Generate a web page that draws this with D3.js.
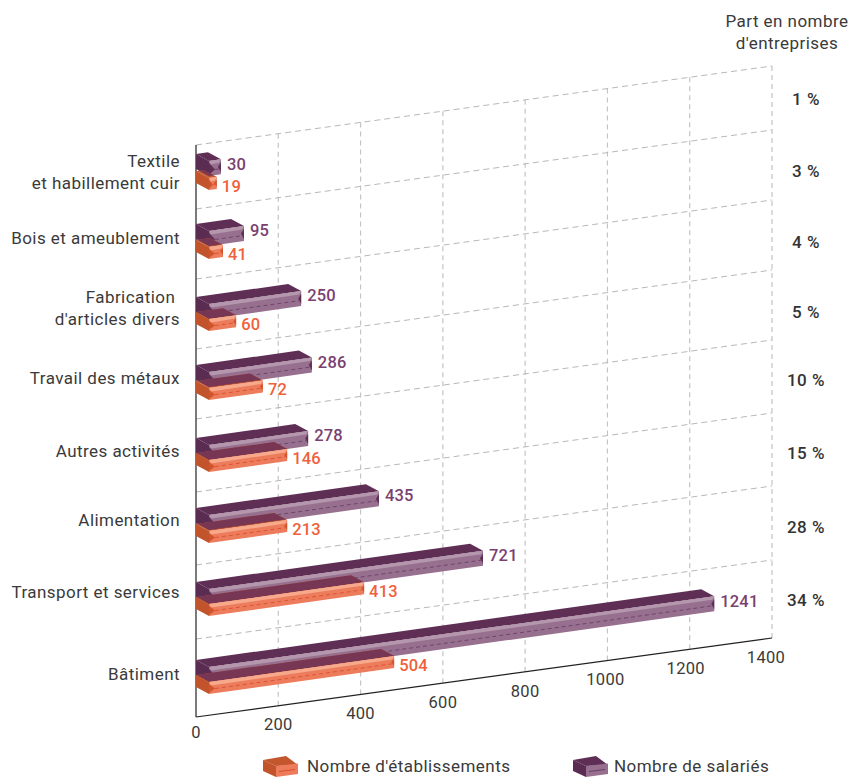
<!DOCTYPE html>
<html lang="fr">
<head>
<meta charset="utf-8">
<script src="https://cdn.jsdelivr.net/npm/d3@7"></script>
<style>
  html, body { margin: 0; padding: 0; background: #fff; }
  svg { display: block; }
  text { font-family: Roboto, sans-serif; font-size: 17px; fill: #3a3a3a; letter-spacing: 0.45px; }
  .tick { font-size: 16.5px; letter-spacing: 0.3px; }
  .val { font-weight: 500; font-size: 16.5px; letter-spacing: 0.2px; }
  .share { font-weight: 500; fill: #333; font-size: 17px; letter-spacing: 0.5px; }
</style>
</head>
<body>
<svg id="chart" width="857" height="777"></svg>
<script>
const categories = ['Textile', 'Bois', 'Fabrication', 'Travail', 'Autres', 'Alimentation', 'Transport', 'Batiment'];
const categoryLines = [
  ['Textile', 'et habillement cuir'],
  ['Bois et ameublement'],
  ['Fabrication\u00a0', "d'articles divers"],
  ['Travail des métaux'],
  ['Autres activités'],
  ['Alimentation'],
  ['Transport et services'],
  ['Bâtiment'],
];
// printed figures
const salaries = [30, 95, 250, 286, 278, 435, 721, 1241];
const establishments = [19, 41, 60, 72, 146, 213, 413, 504];
// bar lengths as read against the axis: the source does not draw them to the printed figures
const salariesDrawn = [29, 85, 224, 250, 241, 413, 666, 1228];
const establishmentsDrawn = [19, 34, 66, 131, 190, 190, 377, 450];
const shares = ['1 %', '3 %', '4 %', '5 %', '10 %', '15 %', '28 %', '34 %'];
const xTicks = [0, 200, 400, 600, 800, 1000, 1200, 1400];

const svg = d3.select('#chart');
const left = 196;
const bottom = 717;
const plotHeight = 572;

const x = d3.scaleLinear().domain([0, 1400]).range([left, 772]);
const yBase = d3.scaleLinear().domain([0, 1400]).range([bottom, 638]);
const len = d3.scaleLinear().domain([0, 1400]).range([0, 576]);

// layout of the rows (the source spacing is not even)
const bandLeft = [145, 209, 279, 349, 419, 492, 565, 639];
const salariesY = d3.scaleOrdinal(categories, [154, 224, 297, 365, 438, 508, 582, 660]);
const establishmentsY = d3.scaleOrdinal(categories, [171, 240, 312, 381, 453, 524, 597, 675]);
const labelY = d3.scaleOrdinal(categories, [161, 238, 297, 378, 451, 520, 592, 674]);
const shareRows = [99, 171, 242, 312, 380, 453, 527, 600];

const PURPLE = { top: '#5e2e55', side: '#5a2c52', front: '#97708f', stripe: '#b497ad', dash: '#6c3d66', tri: '#5e2e55', text: '#7a4170' };
const ORANGE = { top: '#c4562d', side: '#c2542b', front: '#ec7c5c', stripe: '#f7a98c', dash: '#d8502f', tri: '#d4532b', text: '#f0603a' };

const depth = { x: 13, y: 7 };
const slope = -0.14;
const poly = pts => pts.map(p => p.join(',')).join(' ');

// vertical gridlines
svg.append('g').selectAll('line')
  .data(xTicks.slice(1))
  .enter().append('line')
    .attr('x1', d => x(d))
    .attr('x2', d => x(d))
    .attr('y1', d => yBase(d))
    .attr('y2', d => yBase(d) - plotHeight)
    .attr('stroke', '#c4c4c4')
    .attr('stroke-width', 1.2)
    .attr('stroke-dasharray', '5,4');

// row separators
svg.append('g').selectAll('line')
  .data(bandLeft)
  .enter().append('line')
    .attr('x1', left)
    .attr('x2', x(1400))
    .attr('y1', d => d)
    .attr('y2', d => d + yBase(1400) - yBase(0))
    .attr('stroke', '#b8b8b8')
    .attr('stroke-width', 1)
    .attr('stroke-dasharray', '6,4');

// axes
svg.append('line')
  .attr('x1', left).attr('x2', left)
  .attr('y1', bottom - plotHeight).attr('y2', bottom)
  .attr('stroke', '#333').attr('stroke-width', 1.3);
svg.append('line')
  .attr('x1', x(0)).attr('x2', x(1400))
  .attr('y1', yBase(0)).attr('y2', yBase(1400))
  .attr('stroke', '#222').attr('stroke-width', 1.2);

const tickNudgeX = d3.scaleLinear().domain([800, 1400]).range([0, -6]).clamp(true);
svg.append('g').selectAll('text')
  .data(xTicks)
  .enter().append('text')
    .attr('class', 'tick')
    .attr('x', d => x(d) + tickNudgeX(d))
    .attr('y', d => yBase(d) + (d === 0 ? 15 : 19))
    .attr('dy', '0.35em')
    .attr('text-anchor', 'middle')
    .text(d => d);

function barFace(g, x0, y0, length, h, c) {
  const fx = x0 + depth.x;
  const fy = y0 + depth.y;
  const ex = fx + length;
  const ey = fy + length * slope;
  const inset = Math.min(6, length / 2);

  g.append('polygon').attr('fill', c.front)
    .attr('points', poly([[fx, fy], [ex, ey], [ex, ey + h], [fx, fy + h]]));
  // light stripe along the top of the face
  g.append('polygon').attr('fill', c.stripe)
    .attr('points', poly([[fx, fy], [ex, ey], [ex - 2, ey + 3.5], [fx + 2, fy + 3.5]]));
  // dashed seam
  g.append('line')
    .attr('x1', fx + inset).attr('y1', fy + h * 0.62 + inset * slope)
    .attr('x2', ex - 2).attr('y2', ey + h * 0.62 - 2 * slope)
    .attr('stroke', c.dash).attr('stroke-width', 0.9).attr('stroke-dasharray', '4,3');
  // bevel at both ends
  g.append('polygon').attr('fill', c.tri)
    .attr('points', poly([[fx, fy + 2], [fx + inset, fy + h * 0.55], [fx, fy + h - 1]]));
  g.append('polygon').attr('fill', c.tri)
    .attr('points', poly([[ex, ey + 3], [ex - 3, ey + h * 0.5], [ex, ey + h - 2]]));
}

function barTop(g, x0, y0, length, c) {
  const dy = length * slope;
  g.append('polygon').attr('fill', c.top)
    .attr('points', poly([[x0, y0], [x0 + length, y0 + dy], [x0 + length + depth.x, y0 + dy + depth.y], [x0 + depth.x, y0 + depth.y]]));
}

function barSide(g, x0, y0, h, c) {
  g.append('polygon').attr('fill', c.side)
    .attr('points', poly([[x0, y0], [x0 + depth.x, y0 + depth.y], [x0 + depth.x, y0 + depth.y + h], [x0, y0 + h]]));
}

const defs = svg.append('defs');
const gBars = svg.append('g');

categories.forEach((cat, i) => {
  const g = gBars.append('g').attr('class', 'row');
  const pLen = len(salariesDrawn[i]);
  const oLen = len(establishmentsDrawn[i]);
  const pY = salariesY(cat);
  const oY = establishmentsY(cat);
  const pH = 15;
  const oH = 12;

  barTop(g, left, pY, pLen, PURPLE);
  barSide(g, left, pY, pH, PURPLE);
  barFace(g, left, pY, pLen, pH, PURPLE);

  barTop(g, left, oY, oLen, ORANGE);

  // the part of the orange top seen through the purple bar goes dark
  const fx = left + depth.x;
  const fy = pY + depth.y;
  const ex = fx + pLen;
  const ey = fy + pLen * slope;
  defs.append('clipPath').attr('id', `over-${i}`)
    .append('polygon')
      .attr('points', poly([[left, pY], [fx, fy], [ex, ey], [ex, ey + pH], [fx, fy + pH], [left, pY + pH]]));
  const over = g.append('g').attr('clip-path', `url(#over-${i})`);
  barTop(over, left, oY, oLen, { top: '#763654' });

  barSide(g, left, oY, oH, ORANGE);
  barFace(g, left, oY, oLen, oH, ORANGE);

  // value labels
  g.append('text').attr('class', 'val')
    .attr('x', ex + 6)
    .attr('y', ey + pH / 2 - 3)
    .attr('dy', '0.35em')
    .style('fill', PURPLE.text)
    .text(salaries[i]);
  const oex = left + depth.x + oLen;
  const oey = oY + depth.y + oLen * slope;
  g.append('text').attr('class', 'val')
    .attr('x', oex + 5)
    .attr('y', oey + oH / 2 + 3)
    .attr('dy', '0.35em')
    .style('fill', ORANGE.text)
    .text(establishments[i]);
});

// category labels
categories.forEach((cat, i) => {
  categoryLines[i].forEach((line, j) => {
    svg.append('text')
      .attr('x', 180)
      .attr('y', labelY(cat) + j * 22)
      .attr('dy', '0.35em')
      .attr('text-anchor', 'end')
      .text(line);
  });
});

// share column
svg.append('g').selectAll('text')
  .data(['Part en nombre', "d'entreprises"])
  .enter().append('text')
    .attr('x', 787)
    .attr('y', (d, i) => 21 + i * 22)
    .attr('dy', '0.35em')
    .attr('text-anchor', 'middle')
    .text(d => d);
svg.append('g').selectAll('text')
  .data(shares)
  .enter().append('text')
    .attr('class', 'share')
    .attr('x', 806)
    .attr('y', (d, i) => shareRows[i])
    .attr('dy', '0.35em')
    .attr('text-anchor', 'middle')
    .text(d => d);

// legend
const legend = [
  { label: "Nombre d'établissements", c: ORANGE, icon: 263, tx: 307 },
  { label: 'Nombre de salariés', c: PURPLE, icon: 573, tx: 614 },
];
legend.forEach(d => {
  const g = svg.append('g');
  const ix = d.icon;
  g.append('polygon').attr('fill', d.c.top)
    .attr('points', poly([[ix, 760], [ix + 23, 756], [ix + 35, 765], [ix + 13, 766]]));
  g.append('polygon').attr('fill', d.c.side)
    .attr('points', poly([[ix, 760], [ix + 13, 766], [ix + 13, 777], [ix, 771]]));
  g.append('polygon').attr('fill', d.c.front)
    .attr('points', poly([[ix + 13, 766], [ix + 35, 763.5], [ix + 35, 774], [ix + 13, 777]]));
  g.append('line')
    .attr('x1', ix + 16).attr('y1', 771.5)
    .attr('x2', ix + 32).attr('y2', 769.5)
    .attr('stroke', d.c.dash).attr('stroke-width', 1.2);
  svg.append('text')
    .attr('x', d.tx)
    .attr('y', 766)
    .attr('dy', '0.35em')
    .text(d.label);
});
</script>
</body>
</html>
